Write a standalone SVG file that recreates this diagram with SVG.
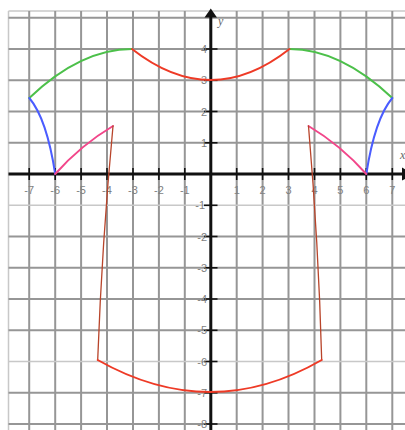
<svg xmlns="http://www.w3.org/2000/svg" width="405" height="430" viewBox="0 0 405 430">
<style>
.g{stroke:#969696;stroke-width:2;fill:none}
.gl{stroke:#c8c8c8;stroke-width:1.5;fill:none}
.ax{stroke:#111;stroke-width:3;fill:none}
.tk{stroke:#111;stroke-width:1.6}
.lx{font-family:"Liberation Sans",Arial,sans-serif;font-size:11px;fill:#7f7f7f;text-anchor:middle}
.ly{font-family:"Liberation Sans",Arial,sans-serif;font-size:11px;fill:#7f7f7f;text-anchor:end}
.c{fill:none;stroke-width:2;stroke-linecap:round;stroke-linejoin:round}
.green{stroke:#4cc04a}
.blue{stroke:#4a5cff}
.pink{stroke:#f2468a}
.red{stroke:#ee3a26}
.brown{stroke:#b8442a;stroke-width:1.3}
</style>
<rect width="405" height="430" fill="#fff"/>
<g id="grid">
<line class="gl" x1="8.5" y1="11" x2="8.5" y2="430"/>
<line class="gl" x1="8.5" y1="11" x2="405" y2="11"/>
<line class="g" x1="29.2" y1="11" x2="29.2" y2="430"/>
<line class="g" x1="55.2" y1="11" x2="55.2" y2="430"/>
<line class="g" x1="81.1" y1="11" x2="81.1" y2="430"/>
<line class="g" x1="107" y1="11" x2="107" y2="430"/>
<line class="g" x1="133" y1="11" x2="133" y2="430"/>
<line class="g" x1="158.9" y1="11" x2="158.9" y2="430"/>
<line class="g" x1="184.8" y1="11" x2="184.8" y2="430"/>
<line class="g" x1="236.7" y1="11" x2="236.7" y2="430"/>
<line class="g" x1="262.6" y1="11" x2="262.6" y2="430"/>
<line class="g" x1="288.5" y1="11" x2="288.5" y2="430"/>
<line class="g" x1="314.5" y1="11" x2="314.5" y2="430"/>
<line class="g" x1="340.4" y1="11" x2="340.4" y2="430"/>
<line class="g" x1="366.3" y1="11" x2="366.3" y2="430"/>
<line class="g" x1="392.3" y1="11" x2="392.3" y2="430"/>
<line class="g" x1="8.5" y1="17.8" x2="405" y2="17.8"/>
<line class="g" x1="8.5" y1="49" x2="405" y2="49"/>
<line class="g" x1="8.5" y1="80.3" x2="405" y2="80.3"/>
<line class="g" x1="8.5" y1="111.5" x2="405" y2="111.5"/>
<line class="g" x1="8.5" y1="142.8" x2="405" y2="142.8"/>
<line class="gl" x1="8.5" y1="205.3" x2="405" y2="205.3"/>
<line class="g" x1="8.5" y1="236.5" x2="405" y2="236.5"/>
<line class="g" x1="8.5" y1="267.8" x2="405" y2="267.8"/>
<line class="g" x1="8.5" y1="299" x2="405" y2="299"/>
<line class="g" x1="8.5" y1="330.3" x2="405" y2="330.3"/>
<line class="gl" x1="8.5" y1="361.5" x2="405" y2="361.5"/>
<line class="g" x1="8.5" y1="392.8" x2="405" y2="392.8"/>
<line class="g" x1="8.5" y1="424" x2="405" y2="424"/>
</g>
<g id="axes">
<line class="ax" x1="8.5" y1="174" x2="403" y2="174"/>
<polygon points="402,167.5 402,180.5 414,174" fill="#111"/>
<line class="ax" x1="210.8" y1="16" x2="210.8" y2="430"/>
<polygon points="210.8,8.5 204.5,17.5 217,17.5" fill="#111"/>
<g class="tk">
<line x1="29.2" y1="168" x2="29.2" y2="180"/>
<line x1="55.2" y1="168" x2="55.2" y2="180"/>
<line x1="81.1" y1="168" x2="81.1" y2="180"/>
<line x1="107" y1="168" x2="107" y2="180"/>
<line x1="133" y1="168" x2="133" y2="180"/>
<line x1="158.9" y1="168" x2="158.9" y2="180"/>
<line x1="184.8" y1="168" x2="184.8" y2="180"/>
<line x1="236.7" y1="168" x2="236.7" y2="180"/>
<line x1="262.6" y1="168" x2="262.6" y2="180"/>
<line x1="288.5" y1="168" x2="288.5" y2="180"/>
<line x1="314.5" y1="168" x2="314.5" y2="180"/>
<line x1="340.4" y1="168" x2="340.4" y2="180"/>
<line x1="366.3" y1="168" x2="366.3" y2="180"/>
<line x1="392.3" y1="168" x2="392.3" y2="180"/>
<line x1="204" y1="49" x2="217.5" y2="49"/>
<line x1="204" y1="80.3" x2="217.5" y2="80.3"/>
<line x1="204" y1="111.5" x2="217.5" y2="111.5"/>
<line x1="204" y1="142.8" x2="217.5" y2="142.8"/>
<line x1="204" y1="205.3" x2="217.5" y2="205.3"/>
<line x1="204" y1="236.5" x2="217.5" y2="236.5"/>
<line x1="204" y1="267.8" x2="217.5" y2="267.8"/>
<line x1="204" y1="299" x2="217.5" y2="299"/>
<line x1="204" y1="330.3" x2="217.5" y2="330.3"/>
<line x1="204" y1="361.5" x2="217.5" y2="361.5"/>
<line x1="204" y1="392.8" x2="217.5" y2="392.8"/>
<line x1="204" y1="424" x2="217.5" y2="424"/>
</g>
<text x="218" y="25" font-family="Liberation Serif,serif" font-style="italic" font-size="12" fill="#666">y</text>
<text x="400" y="159" font-family="Liberation Serif,serif" font-style="italic" font-size="12" fill="#666">x</text>
</g>
<g id="labels">
<text class="lx" x="29.2" y="194">-7</text>
<text class="lx" x="55.2" y="194">-6</text>
<text class="lx" x="81.1" y="194">-5</text>
<text class="lx" x="107" y="194">-4</text>
<text class="lx" x="133" y="194">-3</text>
<text class="lx" x="158.9" y="194">-2</text>
<text class="lx" x="184.8" y="194">-1</text>
<text class="lx" x="236.7" y="194">1</text>
<text class="lx" x="262.6" y="194">2</text>
<text class="lx" x="288.5" y="194">3</text>
<text class="lx" x="314.5" y="194">4</text>
<text class="lx" x="340.4" y="194">5</text>
<text class="lx" x="366.3" y="194">6</text>
<text class="lx" x="392.3" y="194">7</text>
<text class="ly" x="207" y="53">4</text>
<text class="ly" x="207" y="84.3">3</text>
<text class="ly" x="207" y="115.5">2</text>
<text class="ly" x="207" y="146.8">1</text>
<text class="ly" x="205" y="209.3">-1</text>
<text class="ly" x="207" y="240.5">-2</text>
<text class="ly" x="207" y="271.8">-3</text>
<text class="ly" x="207" y="303">-4</text>
<text class="ly" x="207" y="334.3">-5</text>
<text class="ly" x="207" y="365.5">-6</text>
<text class="ly" x="207" y="396.8">-7</text>
<text class="ly" x="207" y="428">-8</text>
</g>
<g id="curves">
<path class="c green" d="M29.3,98 Q80.5,49 132,49"/>
<path class="c green" d="M392.3,98 Q340.5,49 289.5,49"/>
<path class="c red" d="M132,49 Q210.8,111 289.5,49"/>
<path class="c blue" d="M29.3,98 Q46.7,118.6 55.2,174"/>
<path class="c blue" d="M392.3,98 Q374.9,118.6 366.3,174"/>
<path class="c pink" d="M55.2,174 Q81,145 113,126"/>
<path class="c pink" d="M366.3,174 Q340.5,145 308.5,126"/>
<path class="c brown" d="M113,126 Q102,243 97.7,360"/>
<path class="c brown" d="M308.5,126 Q318.5,243 321.7,360"/>
<path class="c red" d="M97.7,360 Q210.7,424 321.7,360"/>
</g>
</svg>
